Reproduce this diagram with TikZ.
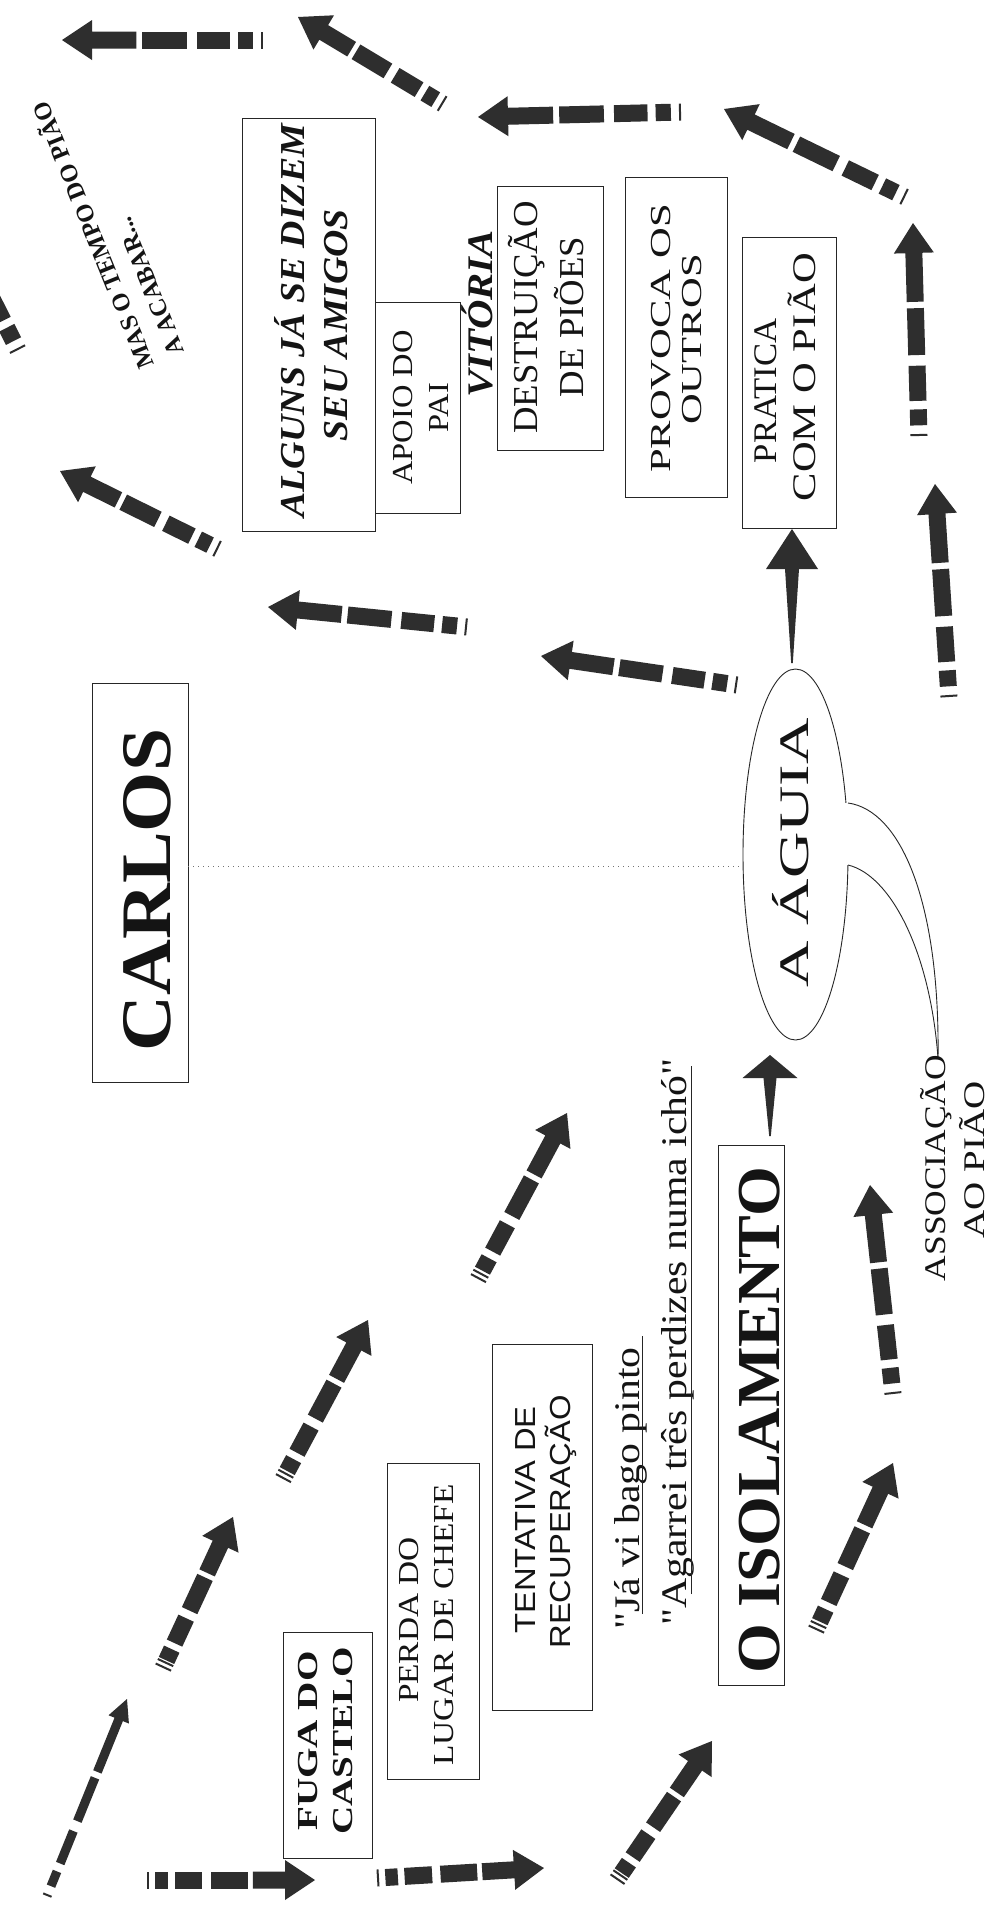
\documentclass[tikz,border=0pt]{standalone}
\usepackage{fontspec}
\setmainfont{Liberation Serif}
\newfontfamily\arialfont{Liberation Sans}
\usepackage{graphicx}
\usetikzlibrary{shapes.geometric}

\newcommand\fs[1]{\fontsize{#1}{#1}\selectfont}
\newcommand\sx[2]{\scalebox{#1}[1]{#2}}

\def\SAh{8.5}\def\SAhw{20}\def\SAhl{30}
\newcommand\SAcalc[2]{%
  \pgfpointdiff{\pgfpointanchor{#1}{center}}{\pgfpointanchor{#2}{center}}%
  \pgfgetlastxy\SAdx\SAdy
  \pgfmathsetmacro\SAang{atan2(\SAdy,\SAdx)}%
  \pgfmathsetmacro\SAlen{veclen(\SAdx,\SAdy)}%
}
% striped arrow: thin tick, growing dashes, shaft and head
\newcommand\stripearrow[3][1]{%
  \SAcalc{#2}{#3}%
  \begin{scope}[shift={(#2)},rotate=\SAang,x=1pt,y=1pt]
    \pgfmathsetmacro\Pa{0.05*\SAlen}\pgfmathsetmacro\Pb{0.125*\SAlen}%
    \pgfmathsetmacro\Pc{0.165*\SAlen}\pgfmathsetmacro\Pd{0.33*\SAlen}%
    \pgfmathsetmacro\Pe{0.38*\SAlen}\pgfmathsetmacro\Pf{0.6*\SAlen}%
    \pgfmathsetmacro\Pg{0.63*\SAlen}\pgfmathsetmacro\Ph{\SAlen-\SAhl}%
    \fill[arr] (0,-\SAh) rectangle (2,\SAh);
    \ifnum#1=2 \fill[arr] (5,-\SAh) rectangle (7,\SAh);\fi
    \fill[arr] (\Pa,-\SAh) rectangle (\Pb,\SAh);
    \fill[arr] (\Pc,-\SAh) rectangle (\Pd,\SAh);
    \fill[arr] (\Pe,-\SAh) rectangle (\Pf,\SAh);
    \fill[arr] (\Pg,-\SAh) -- (\Ph,-\SAh) -- (\Ph,-\SAhw) -- (\SAlen,0)
      -- (\Ph,\SAhw) -- (\Ph,\SAh) -- (\Pg,\SAh) -- cycle;
  \end{scope}}
% solid arrow with tapering shaft: tail, tip, head length, head half width, shaft half width
\newcommand\solidarrow[5]{%
  \SAcalc{#1}{#2}%
  \begin{scope}[shift={(#1)},rotate=\SAang,x=1pt,y=1pt]
    \pgfmathsetmacro\Ph{\SAlen-#3}%
    \fill[arr] (0,-0.8) -- (\Ph,-#5) -- (\Ph,-#4) -- (\SAlen,0)
      -- (\Ph,#4) -- (\Ph,#5) -- (0,0.8) -- cycle;
  \end{scope}}

\begin{document}
\begin{tikzpicture}[x=1pt,y=-1pt,
  box/.style={draw=black!85, line width=0.9pt, inner sep=0pt},
  txb/.style={inner sep=0pt, anchor=base, text=black!92},
  tx/.style={txb, rotate=90},
  arr/.style={fill=black!82},
  thinline/.style={draw=black!85, line width=0.9pt},
  dotline/.style={draw=black!55, line width=0.6pt, dash pattern=on 1pt off 4pt},
]
\useasboundingbox (0,0) rectangle (997,1923);
\fill[white] (0,0) rectangle (997,1923);

% ---------- boxes ----------
\node[box, minimum width=96pt, minimum height=399pt] (carlos) at (140,882.5) {};
\node[box, minimum width=133pt, minimum height=413pt] (algunsbox) at (308.5,324.5) {};
\node[box, minimum width=85pt, minimum height=211pt] (apoiobox) at (417.5,407.5) {};
\node[box, minimum width=106pt, minimum height=264pt] (destrubox) at (550,318) {};
\node[box, minimum width=102pt, minimum height=320pt] (provocabox) at (676,337) {};
\node[box, minimum width=94pt, minimum height=291pt] (praticabox) at (789,382.5) {};
\node[box, minimum width=66pt, minimum height=540pt] (isolbox) at (751,1415) {};
\node[box, minimum width=100pt, minimum height=366pt] (tentbox) at (542,1527) {};
\node[box, minimum width=92pt, minimum height=316pt] (perdabox) at (433,1621) {};
\node[box, minimum width=89pt, minimum height=226pt] (fugabox) at (327.5,1745) {};
\node[ellipse, draw=black!85, line width=0.9pt, minimum width=105pt, minimum height=371pt, inner sep=0pt] (aguia) at (795.5,854.5) {};

% callout tail of the ellipse
\fill[white] (848,803) .. controls (900,810) and (940,900) .. (938,1058)
  .. controls (930,950) and (890,875) .. (848,865) -- (840,865) -- (840,803) -- cycle;
\draw[thinline] (848,803) .. controls (900,810) and (940,900) .. (938,1058);
\draw[thinline] (848,865) .. controls (890,875) and (930,950) .. (938,1058);

% dotted link
\coordinate (dl) at (0,866);
\draw[dotline] (carlos.east |- dl) -- (aguia.west |- dl);

% ---------- texts ----------
\node[tx, font=\bfseries\fs{71}] (tcarlos) at (170,890) {\sx{1.09}{CARLOS}};
\node[tx, font=\bfseries\itshape\fs{35}] (alg1) at (304,321) {\sx{1.08}{ALGUNS JÁ SE DIZEM}};
\node[tx, font=\bfseries\itshape\fs{35}] (alg2) at (347,325) {\sx{1.08}{SEU AMIGOS}};
\node[tx, font=\fs{29}] (apo1) at (412,407.5) {\sx{1.12}{APOIO DO}};
\node[tx, font=\fs{29}] (apo2) at (448,407.5) {\sx{1.12}{PAI}};
\node[tx, font=\bfseries\itshape\fs{36}] (vit) at (492,314) {\sx{1.13}{VITÓRIA}};
\node[tx, font=\fs{35}] (des1) at (537,317.5) {\sx{1.05}{DESTRUIÇÃO}};
\node[tx, font=\fs{35}] (des2) at (583,317) {\sx{1.05}{DE PIÕES}};
\node[tx, font=\fs{29}] (pro1) at (670,338.5) {\sx{1.47}{PROVOCA OS}};
\node[tx, font=\fs{29}] (pro2) at (701,339.5) {\sx{1.47}{OUTROS}};
\node[tx, font=\fs{33}] (pra1) at (776,391) {\sx{1.05}{PRATICA}};
\node[tx, font=\fs{33}] (pra2) at (815,377) {\sx{1.29}{COM O PIÃO}};
\node[tx, font=\fs{42}] (agu) at (808,853) {\sx{1.53}{A ÁGUIA}};
\node[tx, font=\bfseries\fs{61}] (iso) at (779,1420) {\sx{1.05}{O ISOLAMENTO}};
\node[tx, anchor=base west, font=\fs{36}] (q1) at (639,1630) {\sx{1.16}{\textquotedbl Já vi bago pinto}};
\node[tx, anchor=base west, font=\fs{36}] (q2) at (686,1626) {\sx{1.16}{\textquotedbl Agarrei três perdizes numa ichó\textquotedbl}};
\draw[thinline] (642,1614) -- (642,1336);
\draw[thinline] (691,1594) -- (691,1066);
\node[tx, font=\arialfont\fs{29}] (ten1) at (535,1520) {\sx{1.13}{TENTATIVA DE}};
\node[tx, font=\arialfont\fs{29}] (ten2) at (570,1522) {\sx{1.13}{RECUPERAÇÃO}};
\node[tx, font=\fs{29}] (per1) at (418,1620) {\sx{1.15}{PERDA DO}};
\node[tx, font=\fs{29}] (per2) at (453,1625) {\sx{1.15}{LUGAR DE CHEFE}};
\node[tx, font=\bfseries\fs{29}] (fug1) at (317,1741) {\sx{1.35}{FUGA DO}};
\node[tx, font=\bfseries\fs{29}] (fug2) at (352,1741) {\sx{1.35}{CASTELO}};
\node[tx, font=\fs{30}] (ass1) at (945,1168) {\sx{1.18}{ASSOCIAÇÃO}};
\node[tx, font=\fs{30}] (ass2) at (984,1160) {\sx{1.3}{AO PIÃO}};
\node[txb, anchor=base west, rotate=112, font=\bfseries\fs{24.5}] (mas1) at (155,365) {MAS O TEMPO DO PIÃO};
\node[txb, anchor=base west, rotate=112, font=\bfseries\fs{24.5}] (mas2) at (185,352) {A ACABAR...};

% ---------- arrows ----------
\coordinate (a1t) at (263,40);   \coordinate (a1h) at (62,40);
\coordinate (a2t) at (443,104);  \coordinate (a2h) at (298,17);
\coordinate (a3t) at (681,112);  \coordinate (a3h) at (478,117);
\coordinate (a4t) at (905,197);  \coordinate (a4h) at (724,109);
\coordinate (a5t) at (919,436);  \coordinate (a5h) at (913,223);
\coordinate (a6t) at (949,697);  \coordinate (a6h) at (935,484);
\coordinate (a8t) at (737,685);  \coordinate (a8h) at (541,656);
\coordinate (a9t) at (467,627);  \coordinate (a9h) at (268,607);
\coordinate (a10t) at (218,549); \coordinate (a10h) at (60,471);
\coordinate (a11t) at (18,350);  \coordinate (a11h) at (-72,172);
\coordinate (a12t) at (47,1896); \coordinate (a12h) at (127,1699);
\coordinate (a13t) at (163,1668);\coordinate (a13h) at (233,1517);
\coordinate (a14t) at (283,1479);\coordinate (a14h) at (368,1320);
\coordinate (a15t) at (147,1880);\coordinate (a15h) at (315,1880);
\coordinate (a16t) at (377,1878);\coordinate (a16h) at (544,1868);
\coordinate (a17t) at (617,1880);\coordinate (a17h) at (712,1741);
\coordinate (a18t) at (816,1630);\coordinate (a18h) at (893,1463);
\coordinate (a19t) at (893,1394);\coordinate (a19h) at (870,1185);
\coordinate (a20t) at (478,1279);\coordinate (a20h) at (567,1113);
\coordinate (s7t) at (792,663);  \coordinate (s7h) at (792,529);
\coordinate (s21t) at (770,1136);\coordinate (s21h) at (770,1055);

\stripearrow{a1t}{a1h}
\stripearrow{a2t}{a2h}
\stripearrow{a3t}{a3h}
\stripearrow{a4t}{a4h}
\stripearrow{a5t}{a5h}
\stripearrow{a6t}{a6h}
\stripearrow{a8t}{a8h}
\stripearrow{a9t}{a9h}
\stripearrow{a10t}{a10h}
\stripearrow{a11t}{a11h}
\begingroup\def\SAh{4.5}\def\SAhw{11}\def\SAhl{22}
\stripearrow{a12t}{a12h}
\endgroup
\stripearrow[2]{a13t}{a13h}
\stripearrow[2]{a14t}{a14h}
\stripearrow{a15t}{a15h}
\stripearrow{a16t}{a16h}
\stripearrow[2]{a17t}{a17h}
\stripearrow[2]{a18t}{a18h}
\stripearrow{a19t}{a19h}
\stripearrow[2]{a20t}{a20h}
\solidarrow{s7t}{s7h}{40}{26}{7}
\solidarrow{s21t}{s21h}{23}{27.5}{6.5}
\end{tikzpicture}
\end{document}
